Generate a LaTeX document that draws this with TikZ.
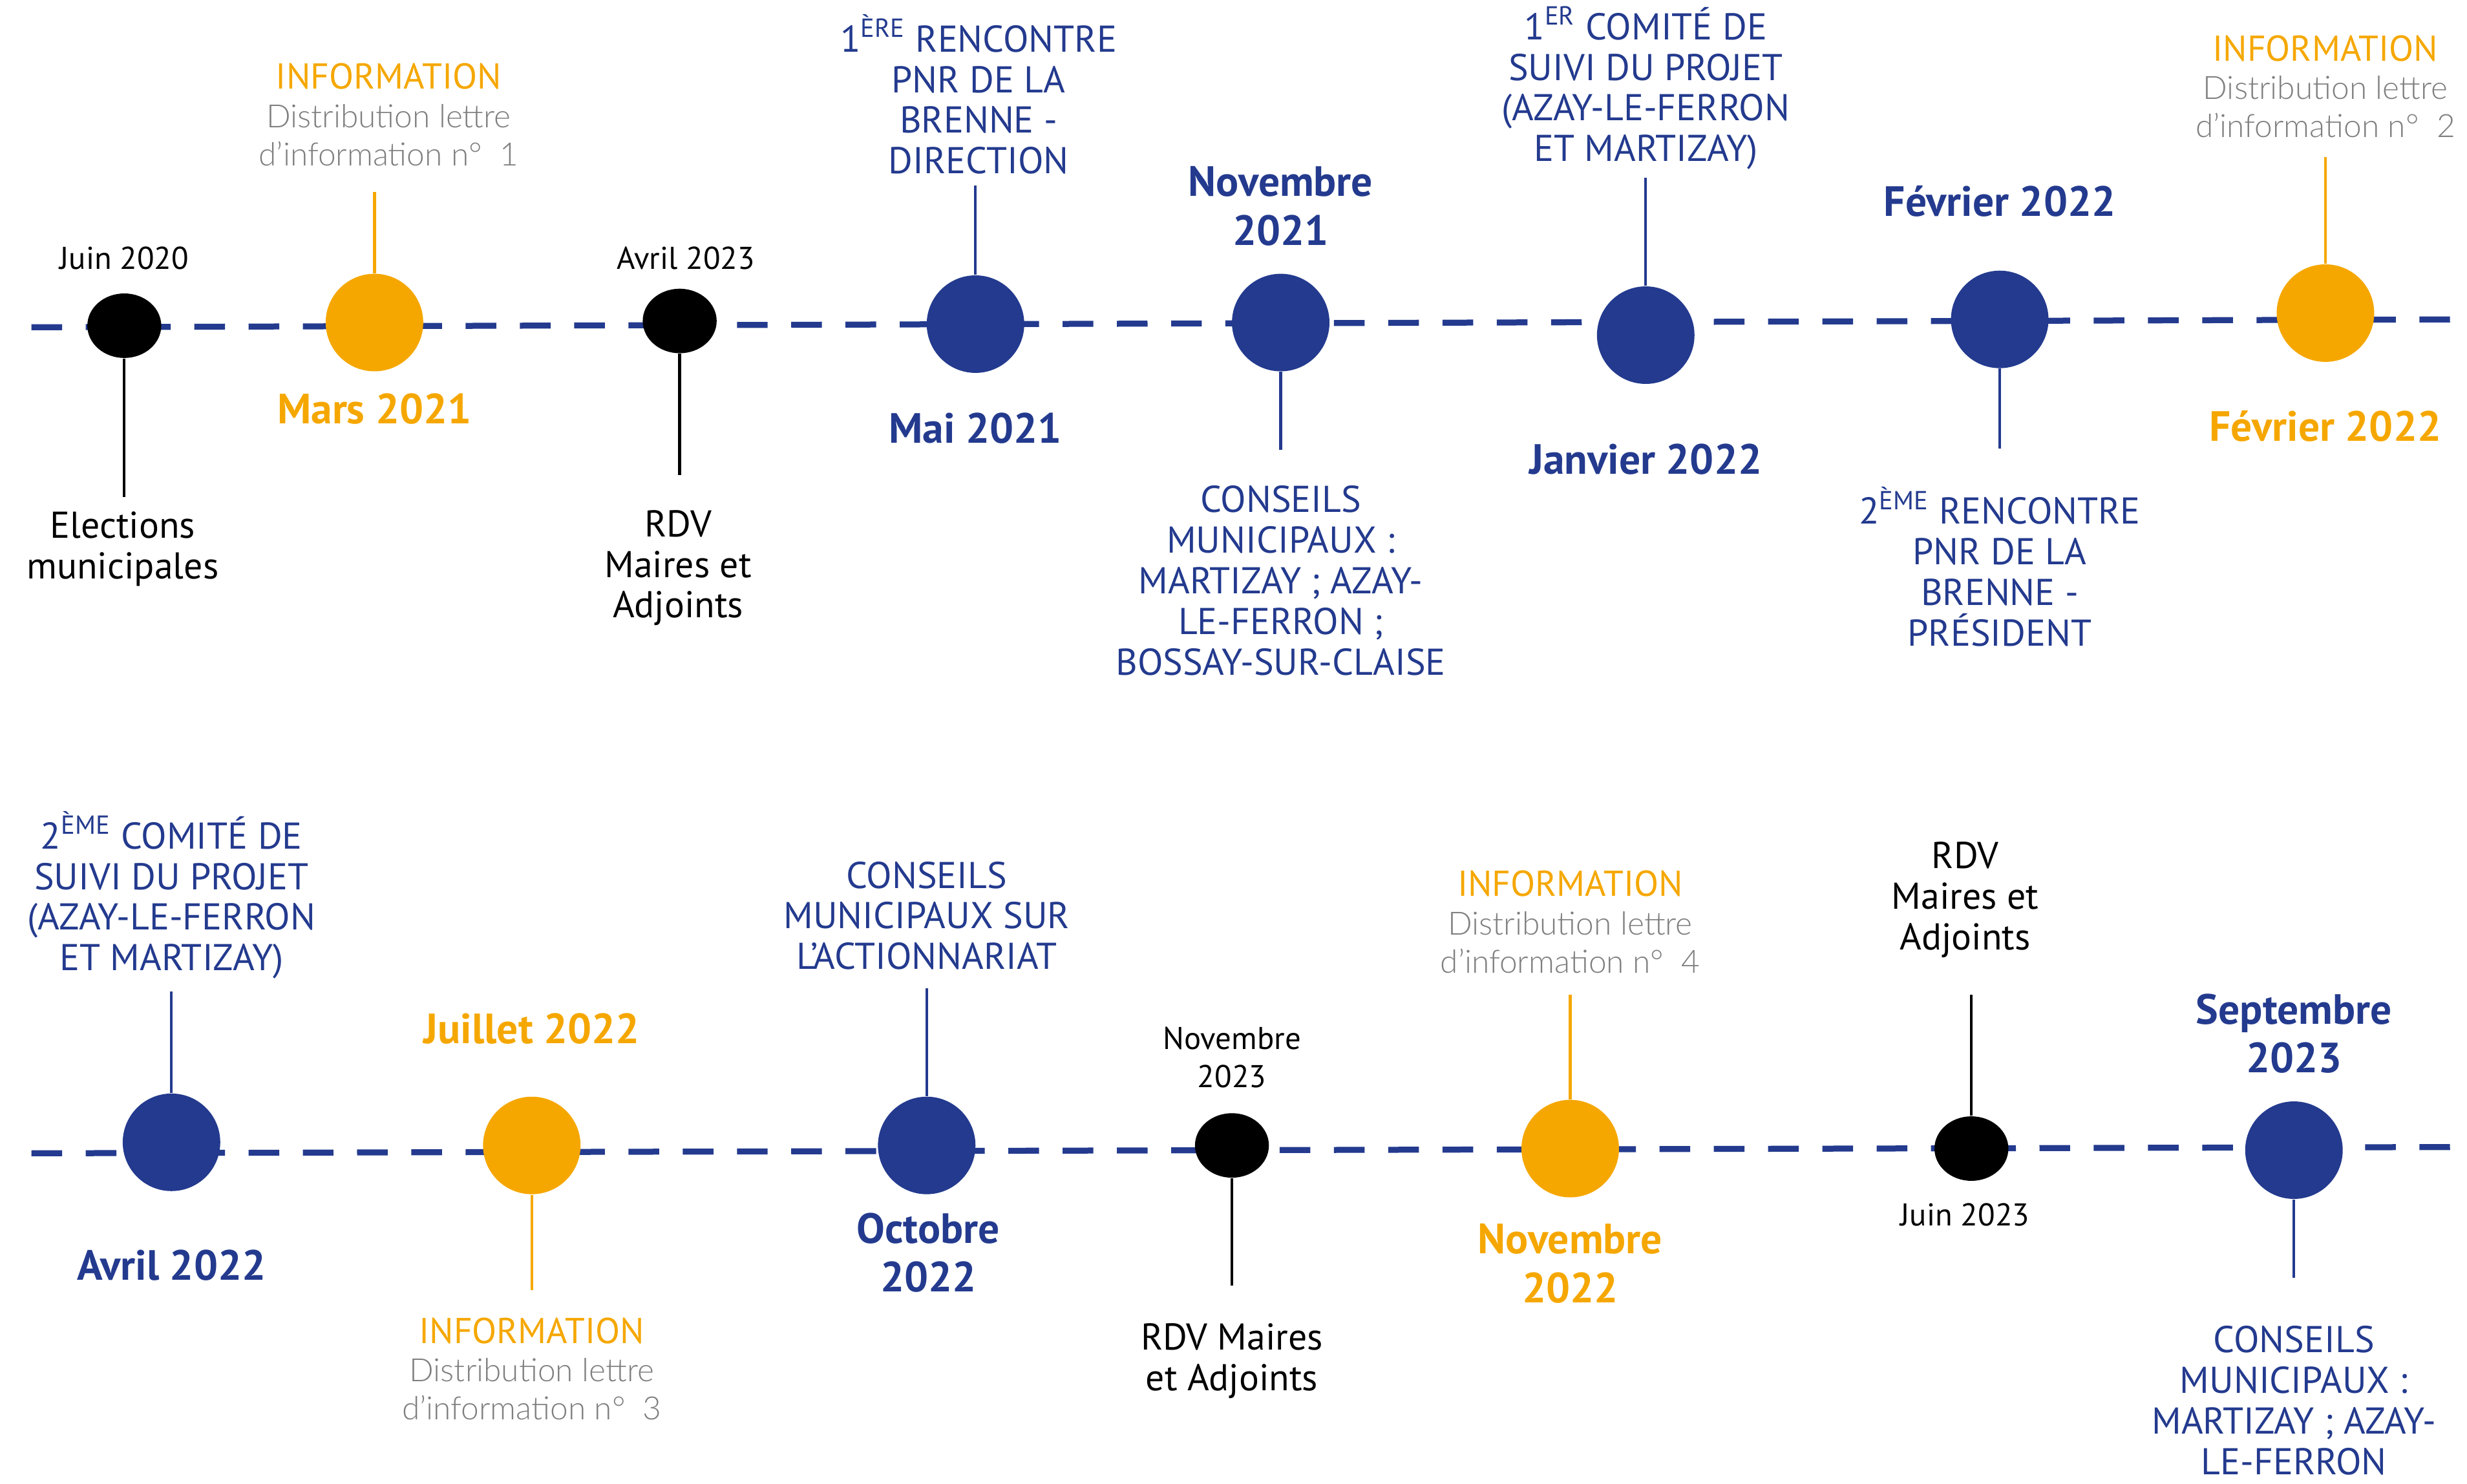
\documentclass[tikz,border=0pt]{standalone}
\usepackage{fontspec}
\setmainfont{PT Sans}
\newfontfamily\greyfont{Lato Light}
\usetikzlibrary{shapes.geometric}

\definecolor{navy}{HTML}{233A8E}
\definecolor{amber}{HTML}{F5A700}
\definecolor{greytxt}{HTML}{7F7F7F}

% three lines of an information step
\newcommand{\infolines}[1]{\textcolor{amber}{INFORMATION}\\{\color{greytxt}\greyfont\fontsize{11.6}{13.9}\selectfont Distribution lettre}\\{\color{greytxt}\greyfont\fontsize{11.6}{13.9}\selectfont d’information n°\hspace{0.55em}#1}}

\begin{document}
\begin{tikzpicture}[x=0.02cm, y=-0.02cm,
	timeline/.style={draw=navy, line width=0.076cm, dash pattern=on 0.39cm off 0.3cm},
	bigdot/.style={circle, fill=#1, minimum size=1.24cm, inner sep=0pt},
	smalldot/.style={ellipse, fill=black, minimum width=0.94cm, minimum height=0.82cm, inner sep=0pt},
	stem/.style={draw=#1, line width=1pt},
	lbl/.style={align=center, inner sep=0pt, text=#1, font=\fontsize{13.5}{14.7}\selectfont},
	datebold/.style={align=center, inner sep=0pt, text=#1, font=\fontsize{15.3}{17.6}\selectfont\bfseries},
	smalldate/.style={align=center, inner sep=0pt, font=\fontsize{11.4}{13.6}\selectfont},
	info/.style={align=center, inner sep=0pt, font=\fontsize{13}{13.9}\selectfont}]
	\useasboundingbox (0,0) rectangle (1568,943);
	
	% Timelines
	\draw[timeline] (20,208) -- (1558,203);
	\draw[timeline] (20,733) -- (1558,729);
	
	% Dots, top row
	\node[smalldot] (d1) at (79,207) {};
	\node[bigdot=amber] (d2) at (238,205) {};
	\node[smalldot] (d3) at (432,204) {};
	\node[bigdot=navy] (d4) at (620,206) {};
	\node[bigdot=navy] (d5) at (814,205) {};
	\node[bigdot=navy] (d6) at (1046,213) {};
	\node[bigdot=navy] (d7) at (1271,203) {};
	\node[bigdot=amber] (d8) at (1478,199) {};
	
	% Dots, bottom row
	\node[bigdot=navy] (d9) at (109,726) {};
	\node[bigdot=amber] (d10) at (338,728) {};
	\node[bigdot=navy] (d11) at (589,728) {};
	\node[smalldot] (d12) at (783,728) {};
	\node[bigdot=amber] (d13) at (998,730) {};
	\node[smalldot] (d14) at (1253,730) {};
	\node[bigdot=navy] (d15) at (1458,731) {};
	
	% Stem ends
	\coordinate (s1) at (79,316);
	\coordinate (s2) at (238,122);
	\coordinate (s3) at (432,302);
	\coordinate (s4) at (620,118);
	\coordinate (s5) at (814,286);
	\coordinate (s6) at (1046,113);
	\coordinate (s7) at (1271,285);
	\coordinate (s8) at (1478,100);
	\coordinate (s9) at (109,630);
	\coordinate (s10) at (338,820);
	\coordinate (s11) at (589,628);
	\coordinate (s12) at (783,817);
	\coordinate (s13) at (998,632);
	\coordinate (s14) at (1253,632);
	\coordinate (s15) at (1458,812);
	
	% Stems
	\draw[stem=black] (d1) -- (s1);
	\draw[stem=amber] (d2) -- (s2);
	\draw[stem=black] (d3) -- (s3);
	\draw[stem=navy] (d4) -- (s4);
	\draw[stem=navy] (d5) -- (s5);
	\draw[stem=navy] (d6) -- (s6);
	\draw[stem=navy] (d7) -- (s7);
	\draw[stem=amber] (d8) -- (s8);
	\draw[stem=navy] (d9) -- (s9);
	\draw[stem=amber] (d10) -- (s10);
	\draw[stem=navy] (d11) -- (s11);
	\draw[stem=black] (d12) -- (s12);
	\draw[stem=amber] (d13) -- (s13);
	\draw[stem=black] (d14) -- (s14);
	\draw[stem=navy] (d15) -- (s15);
	
	% Texts, top row
	\node[smalldate] (t1a) at (79,164) {Juin 2020};
	\node[lbl=black] (t1b) at (78,349) {Elections\\municipales};
	\node[info] (t2a) at (247,73) {\infolines{1}};
	\node[datebold=amber] (t2b) at (238,260) {Mars 2021};
	\node[smalldate] (t3a) at (436,164) {Avril 2023};
	\node[lbl=black] (t3b) at (431,361) {RDV\\Maires et\\Adjoints};
	\node[lbl=navy] (t4a) at (622,60) {1\textsuperscript{ÈRE} RENCONTRE\\PNR DE LA\\BRENNE -\\DIRECTION};
	\node[datebold=navy] (t4b) at (620,272) {Mai 2021};
	\node[datebold=navy] (t5a) at (814,131) {Novembre\\2021};
	\node[lbl=navy] (t5b) at (814,369) {CONSEILS\\MUNICIPAUX :\\MARTIZAY ; AZAY-\\LE-FERRON ;\\BOSSAY-SUR-CLAISE};
	\node[lbl=navy] (t6a) at (1046,56) {1\textsuperscript{ER} COMITÉ DE\\SUIVI DU PROJET\\(AZAY-LE-FERRON\\ET MARTIZAY)};
	\node[datebold=navy] (t6b) at (1046,292) {Janvier 2022};
	\node[datebold=navy] (t7a) at (1271,128) {Février 2022};
	\node[lbl=navy] (t7b) at (1271,360) {2\textsuperscript{ÈME} RENCONTRE\\PNR DE LA\\BRENNE -\\PRÉSIDENT};
	\node[info] (t8a) at (1478,55) {\infolines{2}};
	\node[datebold=amber] (t8b) at (1478,271) {Février 2022};
	
	% Texts, bottom row
	\node[lbl=navy] (t9a) at (109,569) {2\textsuperscript{ÈME} COMITÉ DE\\SUIVI DU PROJET\\(AZAY-LE-FERRON\\ET MARTIZAY)};
	\node[datebold=navy] (t9b) at (109,804) {Avril 2022};
	\node[datebold=amber] (t10a) at (338,654) {Juillet 2022};
	\node[info] (t10b) at (338,870) {\infolines{3}};
	\node[lbl=navy] (t11a) at (589,582) {CONSEILS\\MUNICIPAUX SUR\\L’ACTIONNARIAT};
	\node[datebold=navy] (t11b) at (590,796) {Octobre\\2022};
	\node[smalldate] (t12a) at (783,672) {Novembre\\2023};
	\node[lbl=black] (t12b) at (783,865) {RDV Maires\\et Adjoints};
	\node[info] (t13a) at (998,586) {\infolines{4}};
	\node[datebold=amber] (t13b) at (998,803) {Novembre\\2022};
	\node[lbl=black] (t14a) at (1249,572) {RDV\\Maires et\\Adjoints};
	\node[smalldate] (t14b) at (1249,772) {Juin 2023};
	\node[datebold=navy] (t15a) at (1458,657) {Septembre\\2023};
	\node[lbl=navy] (t15b) at (1458,890) {CONSEILS\\MUNICIPAUX :\\MARTIZAY ; AZAY-\\LE-FERRON};
\end{tikzpicture}
\end{document}
